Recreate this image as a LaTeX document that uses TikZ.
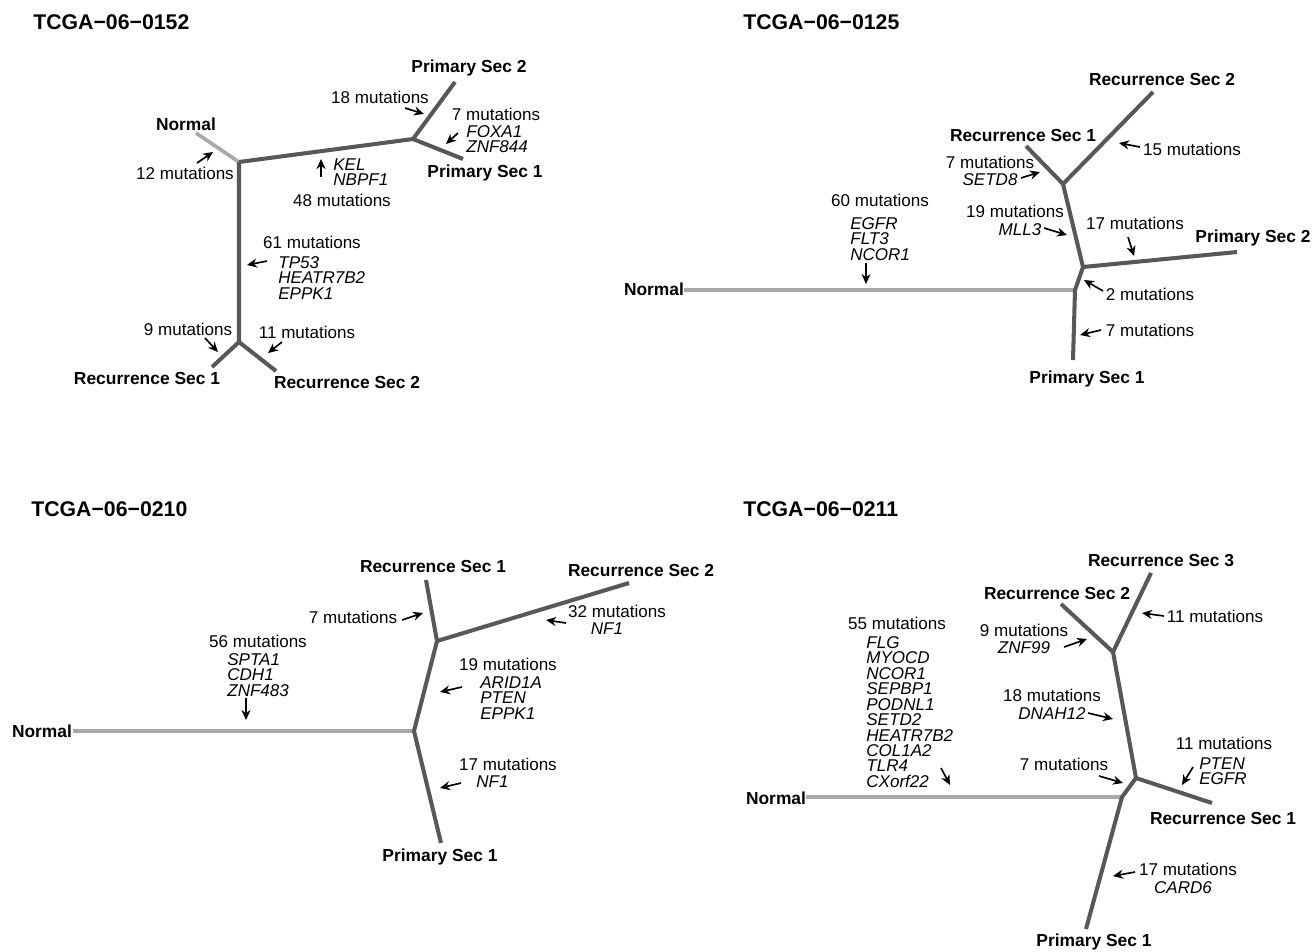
\documentclass[tikz,border=0pt]{standalone}
\usepackage{fontspec}
\setmainfont{Liberation Sans}
\usepackage{xcolor}
\usepackage{tikz}
\usetikzlibrary{arrows.meta}
\definecolor{branchgray}{RGB}{88,88,88}
\definecolor{rootgray}{RGB}{168,168,168}
\tikzset{
  branch/.style={draw=branchgray, line width=2.3pt},
  rootbranch/.style={draw=rootgray, line width=2.1pt},
  title/.style={anchor=west, inner sep=0pt, font=\fontsize{12.1}{14}\selectfont\bfseries},
  leaf/.style={inner sep=0pt, font=\fontsize{9.9}{12}\selectfont\bfseries},
  mut/.style={inner sep=0pt, font=\fontsize{9.7}{11}\selectfont},
  genes/.style={inner sep=0pt, align=left, font=\fontsize{9.7}{8.8}\selectfont\itshape},
  ptr/.style={-{Stealth[length=2mm,width=1.8mm]}, line width=0.95pt},
}

\begin{document}
\begin{tikzpicture}[x=0.02cm, y=-0.02cm]
  \useasboundingbox (0,0) rectangle (1314,951);

  % ---- TCGA-06-0152
  \node[title] (t1) at (33,22) {TCGA−06−0152};
  \coordinate (p1n) at (196,133);  \coordinate (p1a) at (239,162);
  \coordinate (p1b) at (413,139);  \coordinate (p1ps2) at (455,82);
  \coordinate (p1ps1) at (463,159);\coordinate (p1c) at (239,342);
  \coordinate (p1rs1) at (212,367);\coordinate (p1rs2) at (276,371);
  \draw[rootbranch] (p1n) -- (p1a);
  \draw[branch] (p1a) -- (p1b) -- (p1ps2);
  \draw[branch] (p1b) -- (p1ps1);
  \draw[branch] (p1a) -- (p1c) -- (p1rs1);
  \draw[branch] (p1c) -- (p1rs2);
  \node[leaf] (l1n)   at (186,124) {Normal};
  \node[leaf] (l1ps2) at (469,68)  {Primary Sec 2};
  \node[leaf] (l1ps1) at (485,173) {Primary Sec 1};
  \node[leaf] (l1rs1) at (147,379) {Recurrence Sec 1};
  \node[leaf] (l1rs2) at (347,383) {Recurrence Sec 2};
  \node[mut] (m1a) at (185,173) {12 mutations};
  \node[mut] (m1b) at (380,97)  {18 mutations};
  \node[mut] (m1c) at (496,114) {7 mutations};
  \node[genes, anchor=west] (g1c) at (466,139) {FOXA1\\ZNF844};
  \node[genes, anchor=west] (g1d) at (333,172) {KEL\\NBPF1};
  \node[mut] (m1d) at (342,200) {48 mutations};
  \node[mut] (m1e) at (312,242) {61 mutations};
  \node[genes, anchor=west] (g1e) at (278,278) {TP53\\HEATR7B2\\EPPK1};
  \node[mut] (m1f) at (188,329) {9 mutations};
  \node[mut] (m1g) at (307,332) {11 mutations};
  \coordinate (k1as) at (197,163); \coordinate (k1ae) at (213,152);
  \coordinate (k1bs) at (405,108); \coordinate (k1be) at (424,114);
  \coordinate (k1cs) at (458,133); \coordinate (k1ce) at (446,144);
  \coordinate (k1ds) at (321,177); \coordinate (k1de) at (321,159);
  \coordinate (k1es) at (267,261); \coordinate (k1ee) at (247,265);
  \coordinate (k1fs) at (205,338); \coordinate (k1fe) at (218,352);
  \coordinate (k1gs) at (282,342); \coordinate (k1ge) at (268,353);
  \foreach \k in {a,b,c,d,e,f,g}
    \draw[ptr] (k1\k s) -- (k1\k e);

  % ---- TCGA-06-0125
  \node[title] (t2) at (743,22) {TCGA−06−0125};
  \coordinate (p2n) at (684,290);   \coordinate (p2c) at (1075,290);
  \coordinate (p2b) at (1083,267);  \coordinate (p2a) at (1063,184);
  \coordinate (p2rs1) at (1026,146);\coordinate (p2rs2) at (1153,92);
  \coordinate (p2ps2) at (1237,252);\coordinate (p2ps1) at (1073,360);
  \draw[rootbranch] (p2n) -- (p2c);
  \draw[branch] (p2ps1) -- (p2c) -- (p2b) -- (p2a) -- (p2rs1);
  \draw[branch] (p2a) -- (p2rs2);
  \draw[branch] (p2b) -- (p2ps2);
  \node[leaf] (l2n)   at (654,289)  {Normal};
  \node[leaf] (l2rs2) at (1162,80)  {Recurrence Sec 2};
  \node[leaf] (l2rs1) at (1023,136) {Recurrence Sec 1};
  \node[leaf] (l2ps2) at (1253,238) {Primary Sec 2};
  \node[leaf] (l2ps1) at (1087,379) {Primary Sec 1};
  \node[mut] (m2a) at (1192,149) {15 mutations};
  \node[mut] (m2b) at (990,162)  {7 mutations};
  \node[genes] (g2b) at (990,180) {SETD8};
  \node[mut] (m2c) at (880,200)  {60 mutations};
  \node[genes, anchor=west] (g2c) at (850,239) {EGFR\\FLT3\\NCOR1};
  \node[mut] (m2d) at (1015,211) {19 mutations};
  \node[genes] (g2d) at (1020,230) {MLL3};
  \node[mut] (m2e) at (1135,223) {17 mutations};
  \node[mut] (m2f) at (1150,294) {2 mutations};
  \node[mut] (m2g) at (1150,330) {7 mutations};
  \coordinate (k2as) at (1140,147); \coordinate (k2ae) at (1119,143);
  \coordinate (k2bs) at (1021,178); \coordinate (k2be) at (1040,172);
  \coordinate (k2cs) at (866,263);  \coordinate (k2ce) at (866,284);
  \coordinate (k2ds) at (1044,228); \coordinate (k2de) at (1067,235);
  \coordinate (k2es) at (1128,237); \coordinate (k2ee) at (1134,256);
  \coordinate (k2fs) at (1103,291); \coordinate (k2fe) at (1084,280);
  \coordinate (k2gs) at (1101,330); \coordinate (k2ge) at (1080,335);
  \foreach \k in {a,b,c,d,e,f,g}
    \draw[ptr] (k2\k s) -- (k2\k e);

  % ---- TCGA-06-0210
  \node[title] (t3) at (31,509) {TCGA−06−0210};
  \coordinate (p3n) at (73,731);    \coordinate (p3b) at (414,731);
  \coordinate (p3a) at (437,641);   \coordinate (p3rs1) at (426,580);
  \coordinate (p3rs2) at (629,583); \coordinate (p3ps1) at (441,843);
  \draw[rootbranch] (p3n) -- (p3b);
  \draw[branch] (p3ps1) -- (p3b) -- (p3a) -- (p3rs1);
  \draw[branch] (p3a) -- (p3rs2);
  \node[leaf] (l3n)   at (42,731)  {Normal};
  \node[leaf] (l3rs1) at (433,566) {Recurrence Sec 1};
  \node[leaf] (l3rs2) at (641,570) {Recurrence Sec 2};
  \node[leaf] (l3ps1) at (440,857) {Primary Sec 1};
  \node[mut] (m3a) at (353,617) {7 mutations};
  \node[mut] (m3b) at (617,611) {32 mutations};
  \node[genes] (g3b) at (607,629) {NF1};
  \node[mut] (m3c) at (258,641) {56 mutations};
  \node[genes, anchor=west] (g3c) at (227,675) {SPTA1\\CDH1\\ZNF483};
  \node[mut] (m3d) at (508,664) {19 mutations};
  \node[genes, anchor=west] (g3d) at (480,698) {ARID1A\\PTEN\\EPPK1};
  \node[mut] (m3e) at (508,764) {17 mutations};
  \node[genes, anchor=west] (g3e) at (476,782) {NF1};
  \coordinate (k3as) at (402,620); \coordinate (k3ae) at (423,613);
  \coordinate (k3bs) at (566,623); \coordinate (k3be) at (546,620);
  \coordinate (k3cs) at (246,698); \coordinate (k3ce) at (246,720);
  \coordinate (k3ds) at (462,687); \coordinate (k3de) at (440,692);
  \coordinate (k3es) at (461,783); \coordinate (k3ee) at (440,788);
  \foreach \k in {a,b,c,d,e}
    \draw[ptr] (k3\k s) -- (k3\k e);

  % ---- TCGA-06-0211
  \node[title] (t4) at (743,509) {TCGA−06−0211};
  \coordinate (p4n) at (806,797);    \coordinate (p4c) at (1122,797);
  \coordinate (p4b) at (1136,778);   \coordinate (p4a) at (1113,652);
  \coordinate (p4rs2) at (1061,604); \coordinate (p4rs3) at (1151,573);
  \coordinate (p4rs1) at (1212,803); \coordinate (p4ps1) at (1086,929);
  \draw[rootbranch] (p4n) -- (p4c);
  \draw[branch] (p4ps1) -- (p4c) -- (p4b) -- (p4a) -- (p4rs2);
  \draw[branch] (p4a) -- (p4rs3);
  \draw[branch] (p4b) -- (p4rs1);
  \node[leaf] (l4n)   at (776,798)  {Normal};
  \node[leaf] (l4rs3) at (1161,561) {Recurrence Sec 3};
  \node[leaf] (l4rs2) at (1057,593) {Recurrence Sec 2};
  \node[leaf] (l4rs1) at (1223,818) {Recurrence Sec 1};
  \node[leaf] (l4ps1) at (1094,942) {Primary Sec 1};
  \node[mut] (m4a) at (1215,616) {11 mutations};
  \node[mut] (m4b) at (897,623)  {55 mutations};
  \node[genes, anchor=west] (g4b) at (866,712)
    {FLG\\MYOCD\\NCOR1\\SEPBP1\\PODNL1\\SETD2\\HEATR7B2\\COL1A2\\TLR4\\CXorf22};
  \node[mut] (m4c) at (1024,630) {9 mutations};
  \node[genes] (g4c) at (1024,648) {ZNF99};
  \node[mut] (m4d) at (1052,695) {18 mutations};
  \node[genes] (g4d) at (1052,714) {DNAH12};
  \node[mut] (m4e) at (1064,764) {7 mutations};
  \node[mut] (m4f) at (1224,743) {11 mutations};
  \node[genes, anchor=west] (g4f) at (1199,771) {PTEN\\EGFR};
  \node[mut] (m4g) at (1188,869) {17 mutations};
  \node[genes] (g4g) at (1183,888) {CARD6};
  \coordinate (k4as) at (1164,616); \coordinate (k4ae) at (1142,613);
  \coordinate (k4bs) at (941,768);  \coordinate (k4be) at (950,785);
  \coordinate (k4cs) at (1064,647); \coordinate (k4ce) at (1087,639);
  \coordinate (k4ds) at (1088,713); \coordinate (k4de) at (1113,719);
  \coordinate (k4es) at (1099,776); \coordinate (k4ee) at (1123,783);
  \coordinate (k4fs) at (1193,767); \coordinate (k4fe) at (1182,785);
  \coordinate (k4gs) at (1135,872); \coordinate (k4ge) at (1113,876);
  \foreach \k in {a,b,c,d,e,f,g}
    \draw[ptr] (k4\k s) -- (k4\k e);
\end{tikzpicture}
\end{document}
